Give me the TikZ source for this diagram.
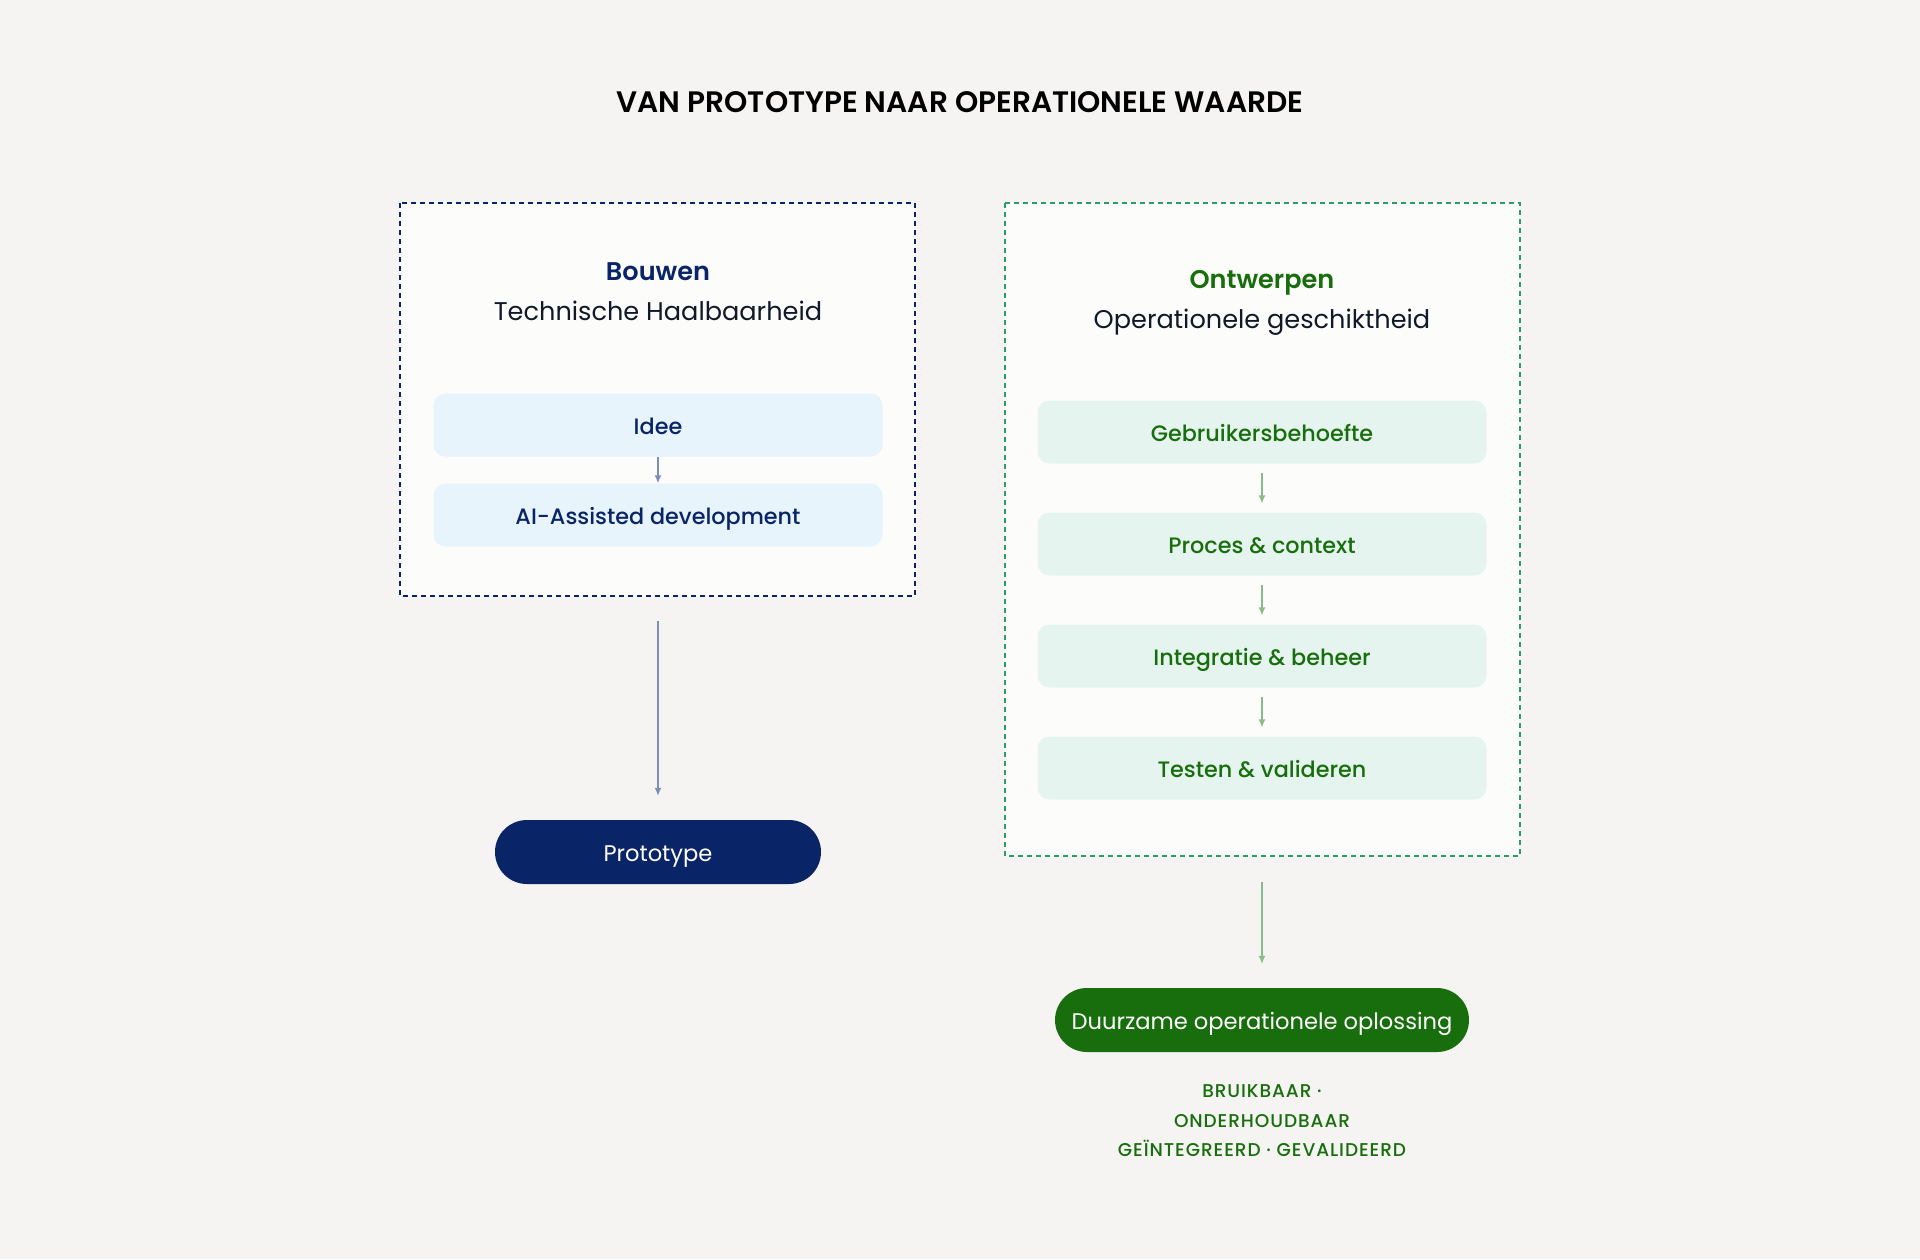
\documentclass[tikz,border=0pt]{standalone}
\usepackage{fontspec}
\setmainfont{Poppins}
\newfontfamily\popmed{Poppins Medium}
\newfontfamily\popsemi{Poppins SemiBold}
\newfontfamily\popcaps[LetterSpace=5]{Poppins Medium}
\usetikzlibrary{arrows.meta}

\definecolor{bgcol}{HTML}{F5F4F2}
\definecolor{panelcol}{HTML}{FCFCFB}
\definecolor{navy}{HTML}{0A2468}
\definecolor{lightblue}{HTML}{E8F4FB}
\definecolor{bluearrow}{HTML}{7D8FB8}
\definecolor{darkgreen}{HTML}{186E0C}
\definecolor{lightgreen}{HTML}{E6F4EF}
\definecolor{dashgreen}{HTML}{2A9E68}
\definecolor{greenarrow}{HTML}{8ABB8A}
\definecolor{inkcol}{HTML}{111827}

\tikzset{
  panel/.style={fill=panelcol, dash pattern=on 5pt off 4pt, line width=1.4pt},
  stepbox/.style={rounded corners=12pt, minimum width=449pt, minimum height=63pt, text height=19.5pt, text depth=0pt, font=\popmed\fontsize{22.3}{26}\selectfont},
  pill/.style={rounded corners=32pt, minimum height=64pt, text height=18.5pt, text depth=0pt, font=\fontsize{22.6}{26}\selectfont, text=white},
  flow/.style={-{Latex[length=8pt,width=7pt]}, line width=1.4pt}
}

\begin{document}
\begin{tikzpicture}[x=1pt, y=-1pt]
    \useasboundingbox[fill=bgcol] (0,0) rectangle (1920,1259);
    \node[font=\popsemi\fontsize{29.6}{34}\selectfont, text=black] (title) at (960,102) {VAN PROTOTYPE NAAR OPERATIONELE WAARDE};

    % bouwen
    \draw[panel, draw=navy] (400,203) rectangle (915,596);
    \node[font=\popsemi\fontsize{25.6}{30}\selectfont, text=navy] (bouwen) at (658,272) {Bouwen};
    \node[font=\fontsize{25.6}{30}\selectfont, text=inkcol] (haalbaar) at (658,311) {Technische Haalbaarheid};
    \node[stepbox, fill=lightblue, text=navy] (idee) at (658,425) {Idee};
    \node[stepbox, fill=lightblue, text=navy] (aidev) at (658,515) {AI-Assisted development};
    \node[pill, fill=navy, minimum width=326pt] (proto) at (658,852) {Prototype};
    \coordinate (bouwenout) at (658,621);
    \draw[flow, bluearrow] (idee) -- (aidev);
    \draw[flow, bluearrow] (bouwenout) -- ([yshift=24pt]proto.north);

    % ontwerpen
    \draw[panel, draw=dashgreen] (1005,203) rectangle (1520,856);
    \node[font=\popsemi\fontsize{25.6}{30}\selectfont, text=darkgreen] (ontwerpen) at (1262,283) {Ontwerpen};
    \node[font=\fontsize{25.6}{30}\selectfont, text=inkcol] (geschikt) at (1262,322) {Operationele geschiktheid};
    \node[stepbox, fill=lightgreen, text=darkgreen] (behoefte) at (1262,432) {Gebruikersbehoefte};
    \node[stepbox, fill=lightgreen, text=darkgreen] (proces) at (1262,544) {Proces \& context};
    \node[stepbox, fill=lightgreen, text=darkgreen] (integratie) at (1262,656) {Integratie \& beheer};
    \node[stepbox, fill=lightgreen, text=darkgreen] (testen) at (1262,768) {Testen \& valideren};
    \node[pill, fill=darkgreen, minimum width=414pt] (duurzaam) at (1262,1020) {Duurzame operationele oplossing};
    \coordinate (ontwerpenout) at (1262,882);
    \draw[flow, greenarrow] ([yshift=-9pt]behoefte.south) -- ([yshift=9pt]proces.north);
    \draw[flow, greenarrow] ([yshift=-9pt]proces.south) -- ([yshift=9pt]integratie.north);
    \draw[flow, greenarrow] ([yshift=-9pt]integratie.south) -- ([yshift=9pt]testen.north);
    \draw[flow, greenarrow] (ontwerpenout) -- ([yshift=24pt]duurzaam.north);
    \node[font=\popcaps\fontsize{18.5}{29.5}\selectfont, text=darkgreen, align=center, below=29pt] (kenmerken) at (duurzaam.south) {BRUIKBAAR ·\\ONDERHOUDBAAR\\GEÏNTEGREERD · GEVALIDEERD};
\end{tikzpicture}
\end{document}
